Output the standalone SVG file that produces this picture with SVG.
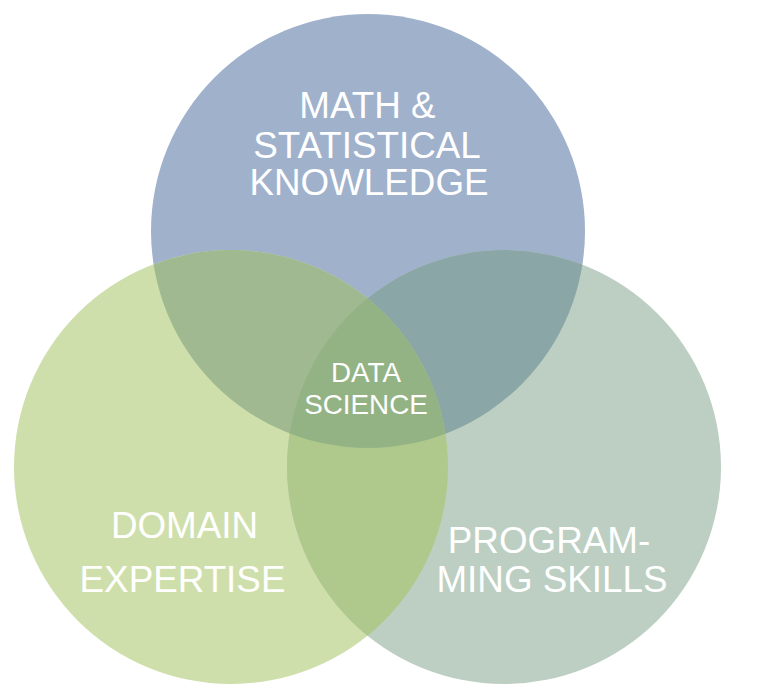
<svg xmlns="http://www.w3.org/2000/svg" width="764" height="696" viewBox="0 0 764 696">
  <style>
    .lbl { fill: #ffffff; font-family: "Liberation Sans", Arial, sans-serif; text-anchor: middle; }
    .big { font-size: 36.8px; }
    .small { font-size: 27.8px; }
  </style>
  <defs>
    <circle id="cTop" cx="368" cy="231" r="217"/>
    <circle id="cLeft" cx="231" cy="467" r="217"/>
    <circle id="cRight" cx="504" cy="467" r="217"/>
    <clipPath id="clipTop"><use href="#cTop"/></clipPath>
    <clipPath id="clipLeft"><use href="#cLeft"/></clipPath>
    <clipPath id="clipRight"><use href="#cRight"/></clipPath>
  </defs>
  <rect width="764" height="696" fill="#ffffff"/>

  <g id="math">
    <use href="#cTop" fill="#a0b1cc"/>
  </g>
  <g id="domain">
    <use href="#cLeft" fill="#cfdfab"/>
  </g>
  <g id="programming">
    <use href="#cRight" fill="#bccfc2"/>
  </g>

  <!-- pairwise overlaps -->
  <g id="overlaps">
    <g clip-path="url(#clipTop)"><use href="#cLeft" fill="#a0b990"/></g>
    <g clip-path="url(#clipTop)"><use href="#cRight" fill="#8ba6a6"/></g>
    <g clip-path="url(#clipLeft)"><use href="#cRight" fill="#afc98d"/></g>
  </g>

  <!-- triple overlap -->
  <g id="data-science">
    <g clip-path="url(#clipTop)">
      <g clip-path="url(#clipLeft)"><use href="#cRight" fill="#94b384"/></g>
    </g>
  </g>

  <g id="labels">
    <text class="lbl big" x="367.5" y="118">MATH &amp;</text>
    <text class="lbl big" x="367" y="158">STATISTICAL</text>
    <text class="lbl big" x="369" y="194.5">KNOWLEDGE</text>
    <text class="lbl small" x="366" y="381.5">DATA</text>
    <text class="lbl small" x="366" y="414">SCIENCE</text>
    <text class="lbl big" x="184.5" y="538">DOMAIN</text>
    <text class="lbl big" x="182.5" y="591.5">EXPERTISE</text>
    <text class="lbl big" x="549" y="553">PROGRAM-</text>
    <text class="lbl big" x="552" y="591.5">MING SKILLS</text>
  </g>
</svg>
